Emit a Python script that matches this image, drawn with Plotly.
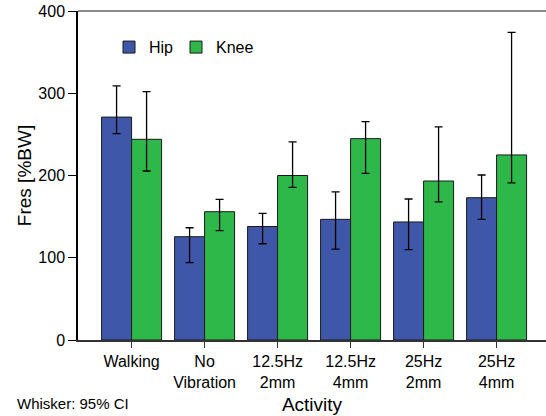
import plotly.graph_objects as go

categories = ["Walking", "No<br>Vibration", "12.5Hz<br>2mm", "12.5Hz<br>4mm", "25Hz<br>2mm", "25Hz<br>4mm"]
hip_mean = [271, 125.6, 138, 146.7, 143.5, 173]
hip_upper = [309, 136.5, 154, 180, 171.4, 200.6]
hip_lower = [251, 94, 117, 110.6, 110, 146.7]
knee_mean = [244, 156, 200, 244.8, 193.3, 225]
knee_upper = [302, 171, 241, 265.4, 259, 374]
knee_lower = [205.5, 133, 185.6, 202.7, 168, 191]

def errs(mean, up, lo):
    return [u - m for m, u in zip(mean, up)], [m - l for m, l in zip(mean, lo)]

hu, hl = errs(hip_mean, hip_upper, hip_lower)
ku, kl = errs(knee_mean, knee_upper, knee_lower)

font_fam = "Liberation Sans, Arial, sans-serif"
fig = go.Figure()
fig.add_trace(go.Bar(
    name="Hip", x=list(range(len(categories))), y=hip_mean, legend="legend",
    showlegend=True,
    marker=dict(color="#3F57A8", line=dict(color="#1a1a1a", width=1)),
    error_y=dict(type="data", symmetric=False, array=hu, arrayminus=hl,
                 color="black", thickness=1.3, width=4),
))
fig.add_trace(go.Bar(
    name="Knee", x=list(range(len(categories))), y=knee_mean, legend="legend2",
    showlegend=True,
    marker=dict(color="#2EB84A", line=dict(color="#1a1a1a", width=1)),
    error_y=dict(type="data", symmetric=False, array=ku, arrayminus=kl,
                 color="black", thickness=1.3, width=4),
))

leg_common = dict(orientation="h", y=0.89, xanchor="left", yanchor="middle",
                  bgcolor="rgba(0,0,0,0)", font=dict(size=16), visible=True)
fig.update_layout(
    width=546, height=416, showlegend=True,
    margin=dict(l=78, r=0, t=11, b=76, autoexpand=False),
    paper_bgcolor="white", plot_bgcolor="white",
    barmode="group", bargap=0.178, bargroupgap=0,
    font=dict(family=font_fam, size=16, color="black"),
    legend=dict(x=(109 - 78) / 468, **leg_common),
    legend2=dict(x=(176 - 78) / 468, **leg_common),
    annotations=[dict(text="Whisker: 95% CI", x=(15 - 78) / 468, y=(340 - 403) / 329,
                      xref="paper", yref="paper", xanchor="left", yanchor="middle",
                      showarrow=False, font=dict(size=15))],
)

fig.update_xaxes(
    tickmode="array", tickvals=list(range(len(categories))), ticktext=categories,
    range=[-0.734, -0.734 + 468 / 73],
    showline=True, linecolor="#333", linewidth=1.5, mirror=False,
    ticks="outside", ticklen=6, tickcolor="#333", automargin=False,
    title=dict(text="Activity", font=dict(size=19), standoff=8),
    showgrid=False, zeroline=False,
)
fig.update_yaxes(
    range=[0, 400], tickvals=[0, 100, 200, 300, 400],
    showline=True, linecolor="black", linewidth=1.5,
    ticks="outside", ticklen=8, tickcolor="black", automargin=False,
    title=dict(text="Fres [%BW]", font=dict(size=19), standoff=2),
    showgrid=False, zeroline=False,
)
# top frame line
fig.add_shape(type="line", xref="paper", yref="paper", x0=0, x1=1, y0=1, y1=1,
              line=dict(color="#666", width=1.5))

fig.write_html("out.html", config={"displayModeBar": False},
               post_script="document.body.style.margin='0';document.body.style.overflow='hidden';")
